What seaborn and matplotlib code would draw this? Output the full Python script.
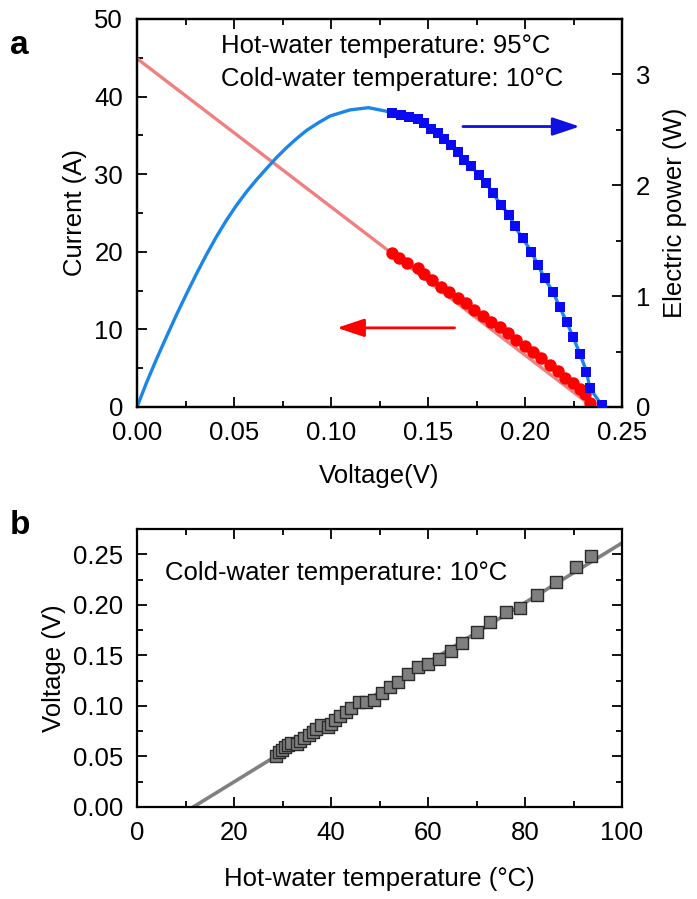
import numpy as np
import matplotlib
matplotlib.use("Agg")
import matplotlib.pyplot as plt
import seaborn as sns
from matplotlib.ticker import MultipleLocator, FormatStrFormatter

# Estilo general
sns.set_theme(style="ticks")
plt.rcParams['font.family'] = ['Liberation Sans', 'DejaVu Sans']
tam = 18.5
plt.rcParams.update({
    'font.size': tam, 'axes.labelsize': tam,
    'xtick.labelsize': tam, 'ytick.labelsize': tam,
    'text.color': 'black', 'axes.labelcolor': 'black',
    'xtick.color': 'black', 'ytick.color': 'black',
    'axes.linewidth': 1.6,
})

# ---- Datos panel a ----
# linea ajustada corriente (A)
iv_line_v = [0.0, 0.235]
iv_line_i = [44.9, 0.0]

# puntos medidos de corriente
circ_v = [0.1316, 0.1351, 0.1394, 0.1446, 0.1480, 0.1523, 0.1567, 0.1610, 0.1653,
          0.1696, 0.1739, 0.1782, 0.1825, 0.1869, 0.1912, 0.1955, 0.1998, 0.2041,
          0.2084, 0.2127, 0.2170, 0.2205, 0.2248, 0.2283, 0.2308, 0.2334]
circ_i = [19.9, 19.2, 18.5, 17.9, 17.1, 16.4, 15.5, 14.8, 14.0, 13.4, 12.5, 11.7,
          11.0, 10.3, 9.5, 8.6, 7.9, 7.1, 6.3, 5.4, 4.6, 3.8, 3.1, 2.3, 1.7, 0.5]

# curva de potencia (parte sin puntos)
pw_curve_v = [0.0, 0.0048, 0.0100, 0.0151, 0.0203, 0.0255, 0.0306, 0.0358, 0.0409,
              0.0461, 0.0513, 0.0564, 0.0616, 0.0667, 0.0719, 0.0771, 0.0822,
              0.0874, 0.0934, 0.0995, 0.1098, 0.1193, 0.1280]
pw_curve_p = [0.0, 0.215, 0.430, 0.630, 0.830, 1.020, 1.200, 1.375, 1.535,
              1.685, 1.820, 1.940, 2.050, 2.150, 2.250, 2.340, 2.420,
              2.495, 2.563, 2.625, 2.680, 2.700, 2.670]

# puntos medidos de potencia (W)
sq_v = [0.1316, 0.1360, 0.1403, 0.1446, 0.1480, 0.1515, 0.1550, 0.1584, 0.1618,
        0.1653, 0.1687, 0.1722, 0.1765, 0.1800, 0.1834, 0.1877, 0.1920, 0.1946,
        0.1989, 0.2033, 0.2067, 0.2101, 0.2144, 0.2179, 0.2214, 0.2248, 0.2283,
        0.2317, 0.2334, 0.2395]
sq_p = [2.65, 2.63, 2.62, 2.60, 2.56, 2.51, 2.47, 2.42, 2.36, 2.30, 2.23, 2.17,
        2.09, 2.02, 1.93, 1.82, 1.73, 1.63, 1.52, 1.40, 1.28, 1.16, 1.04, 0.90,
        0.77, 0.63, 0.48, 0.32, 0.17, 0.02]

# ---- Datos panel b ----
temp_hot = [28.7, 29.3, 29.9, 30.5, 31.1, 31.8, 32.9, 33.6, 34.4, 35.4, 36.2, 37.0,
            37.9, 39.3, 39.9, 40.8, 41.9, 43.0, 44.2, 45.8, 47.3, 48.9, 50.5, 52.2,
            53.9, 55.8, 57.9, 60.1, 62.2, 64.7, 67.1, 70.0, 72.8, 76.0, 79.0, 82.5,
            86.3, 90.6, 93.6]
volt = [0.0507, 0.0540, 0.0566, 0.0592, 0.0615, 0.0632, 0.0625, 0.0655, 0.0681,
        0.0714, 0.0737, 0.0770, 0.0813, 0.0790, 0.0822, 0.0862, 0.0901, 0.0941,
        0.0984, 0.1036, 0.1036, 0.1059, 0.1125, 0.1184, 0.1240, 0.1313, 0.1382,
        0.1414, 0.1464, 0.1543, 0.1625, 0.1734, 0.1832, 0.1931, 0.1970, 0.2095,
        0.2227, 0.2375, 0.2484]
fit_t = [11.6, 100.0]
fit_v = [0.0, 0.2612]

W, H = 697, 899
fig = plt.figure(figsize=(W / 100, H / 100), dpi=100)
ax = fig.add_axes([137 / W, 1 - 407 / H, 485 / W, 388 / H])
ax2 = ax.twinx()
axb = fig.add_axes([137 / W, 1 - 807 / H, 485 / W, 278 / H])


def estilo_ticks(a, **kw):
    a.tick_params(which='both', direction='in', width=1.3, **kw)
    a.tick_params(which='major', length=7.5, pad=10)
    a.tick_params(which='minor', length=4.5)


# Panel a
sns.lineplot(x=iv_line_v, y=iv_line_i, ax=ax, color='#f08080', linewidth=2.4,
             sort=False, estimator=None)
sns.scatterplot(x=circ_v, y=circ_i, ax=ax, marker='o', s=80, color='#ff0000',
                edgecolor='#ff0000', linewidth=0, legend=False, zorder=3)
ax.annotate('', xy=(0.1031, 10.2), xytext=(0.1637, 10.2),
            arrowprops=dict(arrowstyle='-|>,head_length=0.9,head_width=0.3',
                            color='#ff0000', lw=2, shrinkA=0, shrinkB=0))
ax.text(0.0434, 46.5, "Hot-water temperature: 95\u00b0C", va='center')
ax.text(0.0434, 42.3, "Cold-water temperature: 10\u00b0C", va='center')

pw_v = pw_curve_v + sq_v
pw_p = pw_curve_p + sq_p
sns.lineplot(x=pw_v, y=pw_p, ax=ax2, color='#1a86e8', linewidth=2.4,
             sort=False, estimator=None)
sns.scatterplot(x=sq_v, y=sq_p, ax=ax2, marker='s', s=60, color='#0a0af5',
                edgecolor='#0a0af5', linewidth=0, legend=False, zorder=3)
ax2.annotate('', xy=(0.2282, 2.53), xytext=(0.168, 2.53),
             arrowprops=dict(arrowstyle='-|>,head_length=0.9,head_width=0.3',
                             color='#1010e0', lw=2, shrinkA=0, shrinkB=0))

ax.set_xlim(0, 0.25)
ax.set_ylim(0, 50)
ax2.set_ylim(0, 3.5)
ax.xaxis.set_major_locator(MultipleLocator(0.05))
ax.xaxis.set_minor_locator(MultipleLocator(0.025))
ax.xaxis.set_major_formatter(FormatStrFormatter('%.2f'))
ax.yaxis.set_major_locator(MultipleLocator(10))
ax.yaxis.set_minor_locator(MultipleLocator(5))
ax2.yaxis.set_major_locator(MultipleLocator(1))
ax2.yaxis.set_minor_locator(MultipleLocator(0.5))
estilo_ticks(ax, top=True, right=False)
estilo_ticks(ax2)
ax.set_xlabel("Voltage(V)", labelpad=14)
ax.set_ylabel("Current (A)", labelpad=5)
ax2.set_ylabel("Electric power (W)", labelpad=9)

# Panel b
sns.lineplot(x=fit_t, y=fit_v, ax=axb, color='#808080', linewidth=2.6,
             sort=False, estimator=None)
sns.scatterplot(x=temp_hot, y=volt, ax=axb, marker='s', s=65, color='#7f7f7f',
                edgecolor='#2a2a2a', linewidth=1.0, legend=False, zorder=3)
axb.text(5.75, 0.231, "Cold-water temperature: 10\u00b0C", va='center')
axb.set_xlim(0, 100)
axb.set_ylim(0, 0.275)
axb.xaxis.set_major_locator(MultipleLocator(20))
axb.xaxis.set_minor_locator(MultipleLocator(10))
axb.yaxis.set_major_locator(MultipleLocator(0.05))
axb.yaxis.set_minor_locator(MultipleLocator(0.025))
axb.yaxis.set_major_formatter(FormatStrFormatter('%.2f'))
estilo_ticks(axb, top=True, right=True)
axb.set_xlabel("Hot-water temperature (\u00b0C)", labelpad=16)
axb.set_ylabel("Voltage (V)", labelpad=5)

for a in (ax, ax2, axb):
    for sp in a.spines.values():
        sp.set_visible(True)
        sp.set_color('black')
        sp.set_linewidth(1.6)

fig.text(10 / W, 1 - 45 / H, 'a', fontsize=24, fontweight='bold', va='center')
fig.text(10 / W, 1 - 526 / H, 'b', fontsize=24, fontweight='bold', va='center')

fig.savefig("out.png", dpi=100)
